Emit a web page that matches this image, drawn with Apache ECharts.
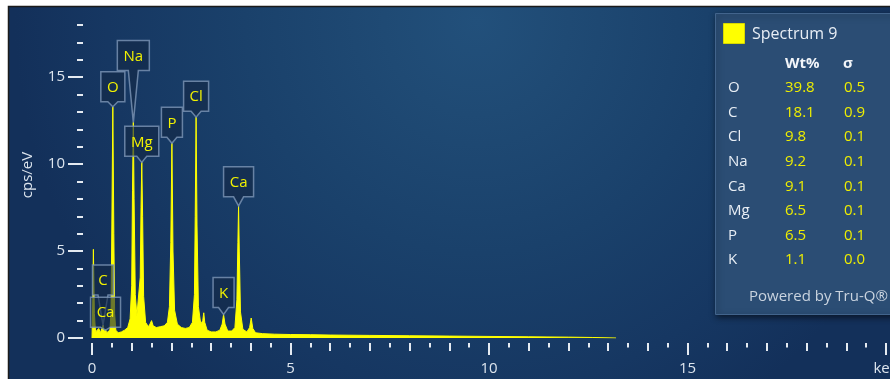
<!DOCTYPE html>
<html>
<head>
<meta charset="utf-8">
<title>Spectrum 9</title>
<script src="https://cdn.jsdelivr.net/npm/echarts@6.0.0/dist/echarts.min.js"></script>
<style>
html, body { margin: 0; padding: 0; background: #fff; }
#chart { width: 890px; height: 379px; }
</style>
</head>
<body>
<div id="chart"></div>
<script>
// spectrum: energy (keV) / counts (cps/eV)
const energy = [0, 0.02, 0.035, 0.06, 0.09, 0.13, 0.17, 0.21, 0.25, 0.28, 0.31, 0.34, 0.37, 0.41, 0.45,
  0.48, 0.50, 0.525, 0.55, 0.57, 0.60, 0.66, 0.74, 0.82, 0.90, 0.96, 1.00, 1.02, 1.041, 1.06, 1.09,
  1.13, 1.18, 1.215, 1.235, 1.254, 1.275, 1.30, 1.35, 1.42, 1.46, 1.50, 1.54, 1.62, 1.72, 1.82, 1.90,
  1.95, 1.985, 2.013, 2.04, 2.08, 2.15, 2.25, 2.35, 2.45, 2.53, 2.58, 2.60, 2.622, 2.645, 2.68, 2.74,
  2.79, 2.815, 2.84, 2.90, 3.00, 3.12, 3.22, 3.28, 3.314, 3.35, 3.42, 3.52, 3.60, 3.65, 3.675, 3.692,
  3.71, 3.74, 3.80, 3.90, 3.97, 4.01, 4.05, 4.12, 4.3, 4.6, 5.0, 5.5, 6, 7, 8, 9, 10, 11, 12, 12.6, 13.2]
const counts = [0, 2.2, 5.1, 1.4, 0.35, 0.25, 0.55, 0.3, 0.55, 0.75, 0.35, 0.5, 0.3, 0.25, 0.45,
  1.5, 6.5, 13.3, 6, 1.4, 0.45, 0.3, 0.35, 0.45, 0.6, 1.1, 3.0, 8.5, 12.4, 8, 2.5,
  1.3, 1.4, 3.5, 7.5, 10.1, 7, 2.4, 0.9, 0.65, 0.8, 1.0, 0.7, 0.6, 0.65, 0.7, 0.9,
  1.8, 5.5, 11.2, 5, 1.6, 0.8, 0.6, 0.55, 0.6, 0.9, 2.5, 7, 12.7, 6.5, 1.8, 0.8,
  1.0, 1.45, 0.9, 0.45, 0.35, 0.35, 0.45, 0.8, 1.35, 0.8, 0.4, 0.4, 0.6, 2.2, 5.5, 7.6,
  5, 1.5, 0.5, 0.35, 0.6, 1.15, 0.55, 0.3, 0.25, 0.22, 0.2, 0.19, 0.17, 0.15, 0.13, 0.11, 0.09, 0.07, 0.05, 0.03, 0]

// peak labels (C before Ca L so the Ca box sits on top)
const peakNames = ['O', 'Na', 'Mg', 'P', 'Cl', 'Ca', 'K', 'C', 'Ca']
const peakEnergy = [0.525, 1.041, 1.254, 2.013, 2.622, 3.692, 3.314, 0.277, 0.341]
const peakHeight = [13.3, 12.4, 10.1, 11.2, 12.7, 7.6, 1.35, 0.75, 0.45]
// px between peak top and bottom of its label box
const peakLift = [5, 52, 6, 6, 6, 9, 7, 30, 3]

// quant table
const tableElements = ['O', 'C', 'Cl', 'Na', 'Ca', 'Mg', 'P', 'K']
const tableWt = ['39.8', '18.1', '9.8', '9.2', '9.1', '6.5', '6.5', '1.1']
const tableSigma = ['0.5', '0.9', '0.1', '0.1', '0.1', '0.1', '0.1', '0.0']

const FONT = '"Open Sans", "Noto Sans", sans-serif'
const tickColor = '#e4eaf1'
const textColor = '#dde5ee'

// plot box: 0 cps at y=338, 18 cps at y=25, 0..20 keV from x=92 to x=886
const plotLeft = 92
const plotRight = 4
const plotBottom = 41
const plotTop = 25
const pxPerCps = (379 - plotBottom - plotTop) / 18

const chart = echarts.init(document.getElementById('chart'))

const measureCtx = document.createElement('canvas').getContext('2d')
measureCtx.font = '15px "Open Sans"'

function renderPeakLabel(params, api) {
  const i = params.dataIndex
  const tip = api.coord([api.value(0), api.value(1)])
  const name = peakNames[i]
  const w = Math.round(measureCtx.measureText(name).width) + 12
  const h = 30
  const cx = tip[0]
  const bottom = tip[1] - peakLift[i]
  const top = bottom - h
  const left = cx - w / 2
  const right = cx + w / 2
  return {
    type: 'group',
    children: [
      {
        type: 'polygon',
        shape: {
          points: [[left, top], [right, top], [right, bottom], [cx + 5, bottom], [cx, tip[1]], [cx - 5, bottom], [left, bottom]],
        },
        style: { fill: 'rgba(19,40,70,0.62)', stroke: 'rgba(125,150,182,0.8)', lineWidth: 1.5 },
      },
      {
        type: 'text',
        x: cx,
        y: top + h / 2 + 1,
        style: { text: name, fill: '#f2f200', font: '15px ' + FONT, align: 'center', verticalAlign: 'middle' },
      },
    ],
  }
}

// The ticks are drawn as split lines of thin strip grids, one strip per tick length.
const hiddenAxis = (grid, min, max) => ({ type: 'value', gridIndex: grid, min: min, max: max, show: false })

function tickAxis(grid, max, interval, label) {
  return {
    type: 'value',
    gridIndex: grid,
    min: 0,
    max: max,
    interval: interval,
    axisLine: { show: false },
    axisTick: { show: false },
    axisLabel: label || { show: false },
    splitLine: { show: true, lineStyle: { color: tickColor, width: 2 } },
  }
}

const grids = [
  // 0: plot
  { left: plotLeft, right: plotRight, top: plotTop, bottom: plotBottom },
  // 1: y ticks every 1 cps
  { left: 77, width: 6, top: plotTop, bottom: plotBottom },
  // 2: y ticks every 5 cps, stretched to 20 so the top one falls off the page
  { left: 68, width: 15, top: plotTop - 2 * pxPerCps, bottom: plotBottom },
  // 3-5: x ticks every 0.5, 1, 5 keV
  { left: plotLeft, right: plotRight, top: 343, height: 4.5 },
  { left: plotLeft, right: plotRight, top: 343, height: 8 },
  { left: plotLeft, right: plotRight, top: 343, height: 12 },
].map(g => Object.assign({ outerBoundsMode: 'none' }, g))

const xAxes = [
  hiddenAxis(0, 0, 20),
  hiddenAxis(1, 0, 1),
  hiddenAxis(2, 0, 1),
  tickAxis(3, 20, 0.5),
  tickAxis(4, 20, 1),
  tickAxis(5, 20, 5, {
    show: true, margin: 6, color: textColor, fontSize: 15, fontFamily: FONT,
    formatter: v => (v === 20 ? 'keV' : v),
  }),
]
xAxes[5].position = 'bottom'

const yAxes = [
  hiddenAxis(0, 0, 18),
  tickAxis(1, 18, 1),
  tickAxis(2, 20, 5, {
    show: true, margin: 3, color: textColor, fontSize: 15, fontFamily: FONT,
    formatter: v => (v === 20 ? '' : v),
  }),
  hiddenAxis(3, 0, 1),
  hiddenAxis(4, 0, 1),
  hiddenAxis(5, 0, 1),
]
yAxes[2].position = 'left'

const tableGraphics = []
tableElements.forEach((el, i) => {
  const y = 88 + i * 24.6
  tableGraphics.push({ type: 'text', x: 728, y: y, style: { text: el, fill: '#e8eef5', font: '15px ' + FONT, verticalAlign: 'middle' } })
  tableGraphics.push({ type: 'text', x: 785, y: y, style: { text: tableWt[i], fill: '#eeee00', font: '15px ' + FONT, verticalAlign: 'middle' } })
  tableGraphics.push({ type: 'text', x: 844, y: y, style: { text: tableSigma[i], fill: '#eeee00', font: '15px ' + FONT, verticalAlign: 'middle' } })
})

const option = {
  backgroundColor: '#ffffff',
  animation: false,
  grid: grids,
  xAxis: xAxes,
  yAxis: yAxes,
  graphic: [
    {
      type: 'rect',
      z: -10,
      shape: { x: 8.5, y: 6.5, width: 900, height: 400 },
      style: {
        fill: new echarts.graphic.RadialGradient(0.52, 0.04, 1.15, [
          { offset: 0, color: '#22507b' },
          { offset: 0.2, color: '#1f4a74' },
          { offset: 0.5, color: '#1a416b' },
          { offset: 0.8, color: '#163762' },
          { offset: 1, color: '#13305a' },
        ]),
        stroke: '#1b1b1b',
        lineWidth: 1.5,
      },
    },
    // y axis title
    {
      type: 'text',
      x: 28,
      y: 175,
      rotation: Math.PI / 2,
      style: { text: 'cps/eV', fill: textColor, font: '15px ' + FONT, align: 'center', verticalAlign: 'middle' },
    },
    {
      type: 'group',
      z: 100,
      children: [
        {
          type: 'rect',
          shape: { x: 715.5, y: 13.5, width: 200, height: 301 },
          style: { fill: '#2b4d74', stroke: '#42648c', lineWidth: 1, shadowBlur: 6, shadowOffsetX: 1, shadowOffsetY: 2, shadowColor: 'rgba(0,0,0,0.55)' },
        },
        { type: 'rect', shape: { x: 723.5, y: 23.5, width: 21, height: 20 }, style: { fill: '#ffff00', stroke: '#d8d800', lineWidth: 1 } },
        { type: 'text', x: 752, y: 34, style: { text: 'Spectrum 9', fill: '#e8eef5', font: '16px ' + FONT, verticalAlign: 'middle' } },
        { type: 'text', x: 785, y: 64, style: { text: 'Wt%', fill: '#f2f5f9', font: 'bold 15px ' + FONT, verticalAlign: 'middle' } },
        { type: 'text', x: 843, y: 64, style: { text: 'σ', fill: '#f2f5f9', font: 'bold 15px ' + FONT, verticalAlign: 'middle' } },
        ...tableGraphics,
        { type: 'text', x: 749, y: 297, style: { text: 'Powered by Tru-Q®', fill: '#c9d3df', font: '15px ' + FONT, verticalAlign: 'middle' } },
      ],
    },
  ],
  series: [
    {
      name: 'Spectrum 9',
      type: 'line',
      xAxisIndex: 0,
      yAxisIndex: 0,
      data: energy.map((e, i) => [e, counts[i]]),
      showSymbol: false,
      lineStyle: { color: '#ffff00', width: 1 },
      areaStyle: { color: '#ffff00', opacity: 1 },
      z: 3,
    },
    {
      type: 'custom',
      xAxisIndex: 0,
      yAxisIndex: 0,
      data: peakEnergy.map((e, i) => [e, peakHeight[i]]),
      encode: { x: 0, y: 1 },
      renderItem: renderPeakLabel,
      clip: false,
      silent: true,
      z: 5,
    },
  ],
}

chart.setOption(option)
</script>
</body>
</html>
